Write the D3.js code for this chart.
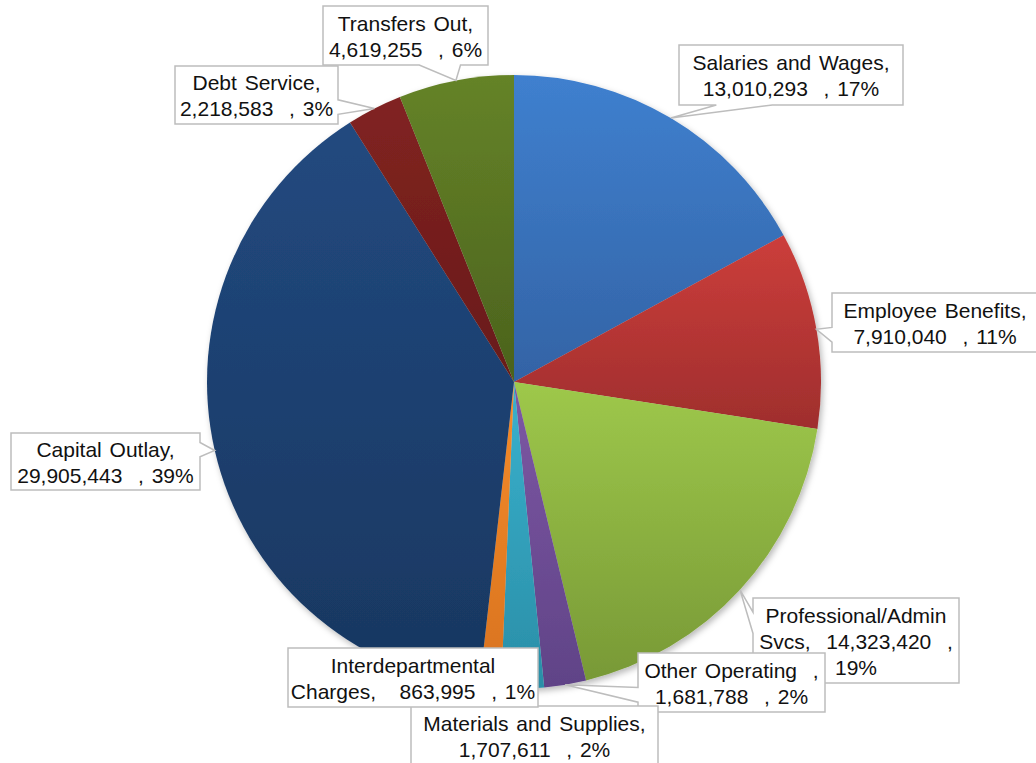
<!DOCTYPE html>
<html>
<head>
<meta charset="utf-8">
<script src="https://cdn.jsdelivr.net/npm/d3@7"></script>
<style>
  html, body { margin: 0; padding: 0; background: #ffffff; }
  svg { display: block; }
</style>
</head>
<body>
<svg id="chart" width="1036" height="763"></svg>
<script>
// ---- Data -------------------------------------------------------------
const categories = [
  "Salaries and Wages",
  "Employee Benefits",
  "Professional/Admin Svcs",
  "Other Operating",
  "Materials and Supplies",
  "Interdepartmental Charges",
  "Capital Outlay",
  "Debt Service",
  "Transfers Out"
];
const amounts = [13010293, 7910040, 14323420, 1681788, 1707611, 863995, 29905443, 2218583, 4619255];

// Slice fills: each slice shades from a lighter top to a darker bottom
const colorsTop    = ["#3f80cf", "#cc3e3b", "#9ec84b", "#7d58a4", "#39b1cd", "#f58b2a", "#22497f", "#812321", "#658328"];
const colorsBottom = ["#3363a5", "#9f2e2d", "#789936", "#604387", "#2a8ea7", "#d8731f", "#183760", "#681a19", "#4b621d"];

// Label text templates ({n} name, {n0}/{n1} name parts, {v} value, {p} percent)
const labelTemplates = [
  ["{n},", "{v}  , {p}"],
  ["{n},", "{v}  , {p}"],
  ["{n0}", "{n1},  {v}  ,", "{p}"],
  ["{n}  ,", "{v}  , {p}"],
  ["{n},", "{v}  , {p}"],
  ["{n0}", "{n1},   {v}  , {p}"],
  ["{n},", "{v}  , {p}"],
  ["{n},", "{v}  , {p}"],
  ["{n},", "{v}  , {p}"]
];

// ---- Layout -----------------------------------------------------------
const W = 1036, H = 763;
const cx = 514, cy = 382, R = 307;
// callout boxes: x, y, width, height, side the pointer leaves from
const labelBoxes = [
  { x: 679, y: 45,  w: 224, h: 60, side: "bottom" },
  { x: 832, y: 293, w: 206, h: 59, side: "left" },
  { x: 753, y: 598, w: 206, h: 85, side: "left" },
  { x: 638, y: 653, w: 187, h: 59, side: "left" },
  { x: 411, y: 706, w: 247, h: 60, side: "top" },
  { x: 288, y: 648, w: 250, h: 59, side: null },
  { x: 11,  y: 433, w: 189, h: 57, side: "right" },
  { x: 175, y: 66,  w: 163, h: 58, side: "right" },
  { x: 323, y: 6,   w: 165, h: 59, side: "bottom" }
];
const fontSize = 21, lineGap = 26;

// ---- Percentages rounded so they total 100 (largest remainder) --------
const total = d3.sum(amounts);
const raw = amounts.map(v => v / total * 100);
const percents = raw.map(Math.floor);
let remaining = 100 - d3.sum(percents);
d3.range(raw.length)
  .sort((a, b) => (raw[b] - Math.floor(raw[b])) - (raw[a] - Math.floor(raw[a])))
  .slice(0, remaining)
  .forEach(i => percents[i] += 1);

const fmt = d3.format(",");

// ---- Drawing ----------------------------------------------------------
const svg = d3.select("#chart");
const defs = svg.append("defs");

colorsTop.forEach((c, i) => {
  const g = defs.append("linearGradient")
    .attr("id", "sliceGrad" + i)
    .attr("x1", 0).attr("y1", 0).attr("x2", 0).attr("y2", 1);
  g.append("stop").attr("offset", "0%").attr("stop-color", c);
  g.append("stop").attr("offset", "100%").attr("stop-color", colorsBottom[i]);
});

const shadow = defs.append("filter").attr("id", "pieShadow")
  .attr("x", "-10%").attr("y", "-10%").attr("width", "120%").attr("height", "120%");
shadow.append("feDropShadow")
  .attr("dx", 2).attr("dy", 3).attr("stdDeviation", 3)
  .attr("flood-color", "#000").attr("flood-opacity", 0.28);

const pie = d3.pie().sort(null).value(d => d)
  .startAngle(0).endAngle(2 * Math.PI);
const arcs = pie(amounts);
const arc = d3.arc().innerRadius(0).outerRadius(R);

const pieG = svg.append("g")
  .attr("transform", `translate(${cx},${cy})`)
  .attr("filter", "url(#pieShadow)");

pieG.selectAll("path.slice")
  .data(arcs)
  .join("path")
  .attr("class", "slice")
  .attr("d", arc)
  .attr("fill", (d, i) => `url(#sliceGrad${i})`);

// Callout outline: rectangle with a wedge running out to the tip
function calloutPath(b, tip) {
  const { x, y, w, h, side } = b;
  const inside = tip[0] > x && tip[0] < x + w && tip[1] > y && tip[1] < y + h;
  const s = inside ? null : side;
  const bcx = x + w / 2, bcy = y + h / 2;
  const xg = tip[0] > bcx ? [7, 10] : [2, 5];
  const yg = tip[1] > bcy ? [7, 10] : [2, 5];
  const x1 = x + w * xg[0] / 12, x2 = x + w * xg[1] / 12;
  const y1 = y + h * yg[0] / 12, y2 = y + h * yg[1] / 12;
  const p = d3.path();
  p.moveTo(x, y);
  if (s === "top") { p.lineTo(x1, y); p.lineTo(tip[0], tip[1]); p.lineTo(x2, y); }
  p.lineTo(x + w, y);
  if (s === "right") { p.lineTo(x + w, y1); p.lineTo(tip[0], tip[1]); p.lineTo(x + w, y2); }
  p.lineTo(x + w, y + h);
  if (s === "bottom") { p.lineTo(x2, y + h); p.lineTo(tip[0], tip[1]); p.lineTo(x1, y + h); }
  p.lineTo(x, y + h);
  if (s === "left") { p.lineTo(x, y2); p.lineTo(tip[0], tip[1]); p.lineTo(x, y1); }
  p.closePath();
  return p.toString();
}

function labelLines(i) {
  const parts = categories[i].split(" ");
  const n0 = parts.length > 1 ? parts.slice(0, -1).join(" ") : categories[i];
  const n1 = parts.length > 1 ? parts[parts.length - 1] : "";
  return labelTemplates[i].map(t => t
    .replace("{n0}", n0).replace("{n1}", n1)
    .replace("{n}", categories[i])
    .replace("{v}", fmt(amounts[i]))
    .replace("{p}", percents[i] + "%"));
}

const labelG = svg.append("g").attr("class", "labels");

arcs.forEach((d, i) => {
  const mid = (d.startAngle + d.endAngle) / 2;
  const tip = [cx + R * Math.sin(mid), cy - R * Math.cos(mid)];
  const b = labelBoxes[i];
  const g = labelG.append("g").attr("class", "label");
  g.append("path")
    .attr("d", calloutPath(b, tip))
    .attr("fill", "#ffffff")
    .attr("stroke", "#bdbdbd")
    .attr("stroke-width", 1.5)
    .attr("stroke-linejoin", "miter");
  const lines = labelLines(i);
  const bcx = b.x + b.w / 2, bcy = b.y + b.h / 2;
  g.selectAll("text")
    .data(lines)
    .join("text")
    .attr("x", bcx)
    .attr("y", (t, k) => bcy + (k - (lines.length - 1) / 2) * lineGap + 8)
    .attr("text-anchor", "middle")
    .attr("font-family", "'Liberation Sans', Arial, sans-serif")
    .attr("font-size", fontSize)
    .attr("word-spacing", 2)
    .attr("fill", "#111111")
    .style("white-space", "pre")
    .text(t => t);
});
</script>
</body>
</html>
